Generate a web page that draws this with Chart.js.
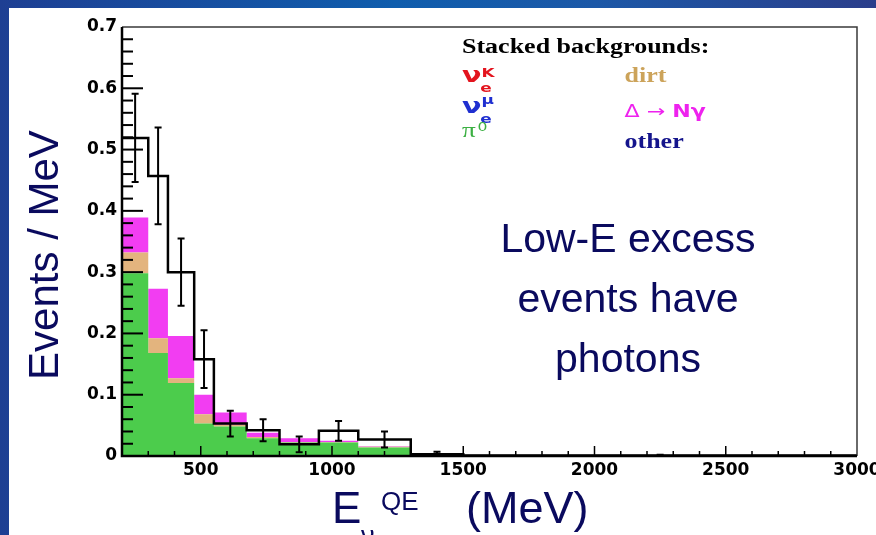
<!DOCTYPE html>
<html>
<head>
<meta charset="utf-8">
<title>Low-E excess events</title>
<script src="https://cdn.jsdelivr.net/npm/chart.js@4.4.0/dist/chart.umd.min.js"></script>
<style>
    html, body { margin: 0; padding: 0; }
    body {
        width: 876px; height: 535px; overflow: hidden; position: relative;
        background: linear-gradient(90deg, #1e3f93 0%, #0f5dad 45%, #1c58a7 68%, #2b3e8b 100%);
    }
    #panel { position: absolute; left: 9px; top: 8px; right: 0; bottom: 0; background: #fff; }
    #chart { position: absolute; left: 0; top: 0; }
    .t { position: absolute; line-height: 0; white-space: nowrap; }
    .navy { color: #0a0a5e; font-family: "Liberation Sans", Arial, sans-serif; }
    .serif { font-family: "Liberation Serif", "Times New Roman", serif; }
    .sans { font-family: "DejaVu Sans", sans-serif; font-weight: bold; }
    #legend { position: absolute; left: 462px; top: 0; width: 320px; height: 160px;
              transform: scaleX(1.3); transform-origin: 0 0; }
    #ytitle { position: absolute; left: -106.5px; top: 234px; width: 300px; height: 42px;
              line-height: 42px; font-size: 42px; text-align: center; transform: rotate(-90deg); }
</style>
</head>
<body>
<div id="panel"></div>
<canvas id="chart" width="876" height="535"></canvas>

<div id="ytitle" class="navy">Events / MeV</div>

<div class="t navy" style="left:428px; width:400px; text-align:center; top:238px; font-size:41px;">Low-E excess</div>
<div class="t navy" style="left:428px; width:400px; text-align:center; top:298px; font-size:41px;">events have</div>
<div class="t navy" style="left:428px; width:400px; text-align:center; top:358px; font-size:41px;">photons</div>

<div class="t navy" style="left:332px; top:508px; font-size:44px;">E</div>
<div class="t navy" style="left:361px; top:536px; font-size:27px;">ν</div>
<div class="t navy" style="left:381px; top:501px; font-size:26px;">QE</div>
<div class="t navy" style="left:466px; top:508px; font-size:45px;">(MeV)</div>

<div id="legend">
    <div class="t serif" style="left:0; top:46.2px; font-size:20px; font-weight:bold; color:#000;">Stacked backgrounds:</div>

    <div class="t sans" style="left:0; top:74.5px; font-size:22px; color:#e3141e;">ν</div>
    <div class="t sans" style="left:14px; top:87.6px; font-size:13px; color:#e3141e;">e</div>
    <div class="t sans" style="left:15px; top:72.6px; font-size:13px; color:#e3141e;">K</div>

    <div class="t sans" style="left:0; top:105.5px; font-size:22px; color:#1f2fd0;">ν</div>
    <div class="t sans" style="left:14px; top:118.6px; font-size:13px; color:#1f2fd0;">e</div>
    <div class="t sans" style="left:15px; top:99.6px; font-size:13px; color:#1f2fd0;">μ</div>

    <div class="t serif" style="left:0; top:130.2px; font-size:21px; color:#3cb043;">π</div>
    <div class="t sans" style="left:12px; top:127px; font-size:12px; font-weight:normal; color:#3cb043;">0</div>

    <div class="t serif" style="left:125px; top:75.2px; font-size:20px; font-weight:bold; color:#cca35a;">dirt</div>
    <div class="t" style="left:125px; top:111.2px; font-size:17px; font-family:'DejaVu Sans', sans-serif; color:#ee22ee;">Δ → <b>Nγ</b></div>
    <div class="t serif" style="left:125px; top:141.2px; font-size:20px; font-weight:bold; color:#14148c;">other</div>
</div>

<script>
// bin edges in MeV (variable width)
const edges = [200, 300, 375, 475, 550, 675, 800, 950, 1100, 1300, 1500, 3000];

// data (events / MeV) and its error
const data_vals = [0.519, 0.457, 0.300, 0.158, 0.053, 0.042, 0.019, 0.041, 0.027, 0.003, 0.001];
const data_err  = [0.072, 0.079, 0.055, 0.047, 0.021, 0.018, 0.013, 0.016, 0.013, 0.004, 0.001];

// stacked backgrounds
const pi0_vals   = [0.298, 0.168, 0.119, 0.053, 0.048, 0.029, 0.022, 0.022, 0.014, 0.004, 0.001];
const dirt_vals  = [0.034, 0.024, 0.008, 0.015, 0.003, 0.002, 0.001, 0.001, 0.001, 0.000, 0.000];
const delta_vals = [0.057, 0.081, 0.069, 0.032, 0.020, 0.007, 0.006, 0.002, 0.001, 0.000, 0.000];

const x_ticks = [500, 1000, 1500, 2000, 2500, 3000];

// histogram outline: two points per bin
function hist(vals) {
    let pts = [];
    vals.forEach((v, i) => {
        pts.push({x: edges[i], y: v});
        pts.push({x: edges[i + 1], y: v});
    });
    return pts;
}

let dirt_top = pi0_vals.map((v, i) => v + dirt_vals[i]);
let delta_top = dirt_top.map((v, i) => v + delta_vals[i]);

const decorations = {
    id: 'decorations',
    afterDatasetsDraw(chart) {
        const ctx = chart.ctx;
        const a = chart.chartArea;
        const xs = chart.scales.x;
        const ys = chart.scales.y;
        ctx.save();
        ctx.strokeStyle = '#000';
        ctx.lineCap = 'butt';

        // error bars
        ctx.lineWidth = 2;
        data_vals.forEach((v, i) => {
            let cx = xs.getPixelForValue((edges[i] + edges[i + 1]) / 2);
            let y1 = ys.getPixelForValue(v + data_err[i]);
            let y2 = ys.getPixelForValue(Math.max(0, v - data_err[i]));
            ctx.beginPath();
            ctx.moveTo(cx, y1); ctx.lineTo(cx, y2);
            ctx.moveTo(cx - 3.5, y1); ctx.lineTo(cx + 3.5, y1);
            ctx.moveTo(cx - 3.5, y2); ctx.lineTo(cx + 3.5, y2);
            ctx.stroke();
        });

        // y ticks, pointing inside
        ctx.lineWidth = 2;
        for (let k = 1; k < 35; k++) {
            let py = ys.getPixelForValue(k * 0.02);
            let len = (k % 5 === 0) ? 21 : 11;
            ctx.beginPath();
            ctx.moveTo(a.left, py); ctx.lineTo(a.left + len, py);
            ctx.stroke();
        }
        // x ticks
        ctx.lineWidth = 1.5;
        for (let v = 300; v < 3000; v += 100) {
            let px = xs.getPixelForValue(v);
            let len = (v % 500 === 0) ? 10 : 5;
            ctx.beginPath();
            ctx.moveTo(px, a.bottom); ctx.lineTo(px, a.bottom - len);
            ctx.stroke();
        }

        // frame
        ctx.strokeStyle = '#3a3a3a';
        ctx.lineWidth = 1.5;
        ctx.beginPath();
        ctx.moveTo(a.left, a.top); ctx.lineTo(a.right, a.top); ctx.lineTo(a.right, a.bottom);
        ctx.stroke();
        ctx.strokeStyle = '#000';
        ctx.lineWidth = 2.5;
        ctx.beginPath();
        ctx.moveTo(a.left, a.top); ctx.lineTo(a.left, a.bottom); ctx.lineTo(a.right, a.bottom);
        ctx.stroke();
        ctx.restore();
    }
};

const tick_font = {family: 'DejaVu Sans', size: 17, weight: 'bold'};

new Chart(document.getElementById('chart').getContext('2d'), {
    type: 'line',
    data: {
        datasets: [
            {
                label: 'π0',
                data: hist(pi0_vals),
                borderColor: 'transparent',
                borderWidth: 0,
                backgroundColor: '#4ccc4c',
                fill: 'origin',
                pointRadius: 0,
            },
            {
                label: 'dirt',
                data: hist(dirt_top),
                borderColor: 'transparent',
                borderWidth: 0,
                backgroundColor: '#e3b47e',
                fill: '-1',
                pointRadius: 0,
            },
            {
                label: 'Δ → Nγ',
                data: hist(delta_top),
                borderColor: 'transparent',
                borderWidth: 0,
                backgroundColor: '#f23df2',
                fill: '-1',
                pointRadius: 0,
            },
            {
                label: 'data',
                data: hist(data_vals),
                borderColor: '#000',
                borderWidth: 2.5,
                fill: false,
                pointRadius: 0,
                order: -1,
            }
        ]
    },
    options: {
        responsive: false,
        animation: false,
        events: [],
        layout: {
            padding: {left: 82, top: 27, right: 19, bottom: 49}
        },
        plugins: {
            legend: {display: false},
            tooltip: {enabled: false},
        },
        scales: {
            x: {
                type: 'linear',
                min: 200,
                max: 3000,
                grid: {display: false, drawTicks: false},
                border: {display: false},
                ticks: {
                    color: '#000',
                    font: tick_font,
                    padding: 4,
                    maxRotation: 0,
                    autoSkip: false,
                    callback: (v) => String(v),
                },
                afterBuildTicks: (s) => { s.ticks = x_ticks.map(v => ({value: v})); },
                afterFit: (s) => {
                    s.height = 30;
                    s.paddingLeft = 0;
                    s.paddingRight = 0;
                },
            },
            y: {
                min: 0,
                max: 0.7,
                grid: {display: false, drawTicks: false},
                border: {display: false},
                ticks: {
                    stepSize: 0.1,
                    color: '#000',
                    font: tick_font,
                    padding: 5,
                    callback: (v) => v === 0 ? '0' : v.toFixed(1),
                },
                afterFit: (s) => {
                    s.width = 40;
                    s.paddingTop = 0;
                    s.paddingBottom = 0;
                },
            }
        }
    },
    plugins: [decorations]
});
</script>
</body>
</html>
